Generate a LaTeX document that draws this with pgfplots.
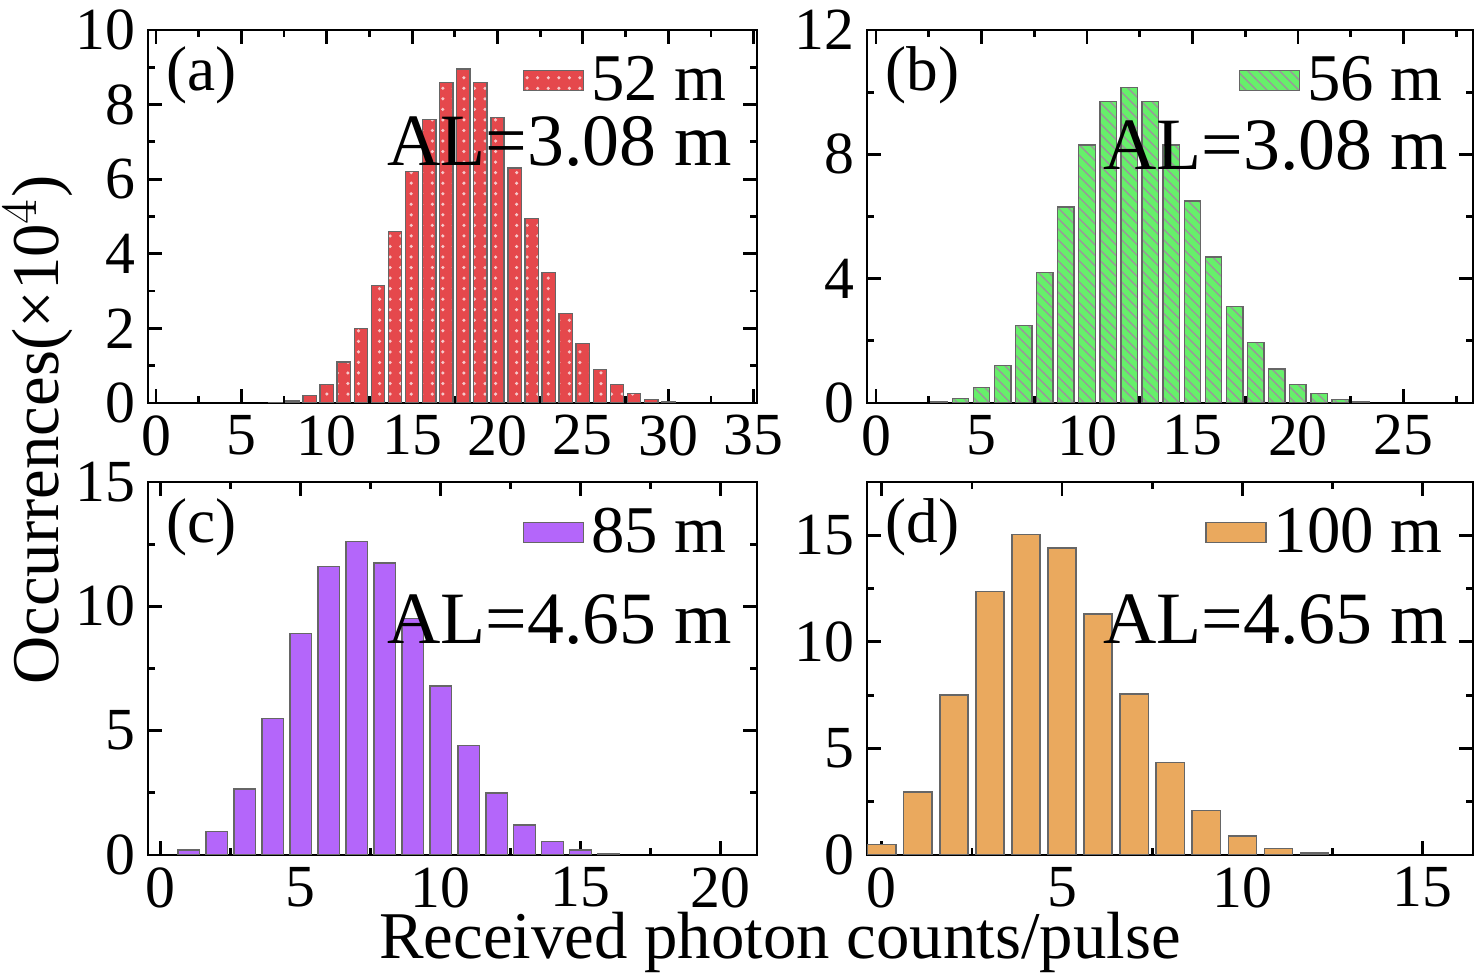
\documentclass[border=0pt]{standalone}
\usepackage{pgfplots}
\pgfplotsset{compat=1.18}
\usepackage{fontspec}
\setmainfont{Liberation Serif}
\usetikzlibrary{patterns}
\definecolor{cr}{HTML}{E5484C}
\definecolor{cg}{HTML}{66F06A}
\definecolor{cp}{HTML}{B466FA}
\definecolor{co}{HTML}{EAA95E}
\tikzset{lab/.style={font=\fontsize{18}{20}\selectfont}}
\pgfplotsset{
  every axis/.style={scale only axis, width=6.09cm, height=3.73cm, ybar, ymin=0,
    /pgf/number format/assume math mode=true,
    ticklabel style={font=\fontsize{17}{19}\selectfont},
    tick style={black, thick}, major tick length=4pt, minor tick length=2pt,
    minor x tick num=1, minor y tick num=1, tick align=inside,
    axis line style={thin},
    legend style={draw=none, fill=none, at={(0.98,0.97)}, anchor=north east,
      font=\fontsize{19}{21}\selectfont},
    legend image code/.code={\draw[#1,draw=black!60] (0cm,-0.25cm) rectangle (1.07cm,0.25cm);},
    area legend},
}
\begin{document}
\begin{tikzpicture}
\path[use as bounding box] (0,0) rectangle (14.78,-9.74);
% (a)
\begin{axis}[at={(1.48cm,-4.03cm)}, xmin=-0.47, xmax=35.2, ymax=10, xtick distance=5, ytick={0,2,4,6,8,10}, bar width=0.78]
\addplot[fill=cr, draw=black!60, postaction={pattern=dots, pattern color=white!70!cr}] coordinates {(7,0.02)(8,0.05)(9,0.2)(10,0.5)(11,1.1)(12,2.0)(13,3.15)(14,4.6)(15,6.2)(16,7.6)(17,8.6)(18,8.95)(19,8.6)(20,7.65)(21,6.3)(22,4.95)(23,3.5)(24,2.4)(25,1.6)(26,0.9)(27,0.5)(28,0.25)(29,0.1)(30,0.04)};
\addlegendentry{52 m}
\node[lab, anchor=north west] at (rel axis cs:0.01,0.99) {(a)};
\node[anchor=east, font=\fontsize{21}{23}\selectfont] at (rel axis cs:0.98,0.70) {AL=3.08 m};
\end{axis}
% (b)
\begin{axis}[at={(8.67cm,-4.03cm)}, width=6.06cm, xmin=-0.43, xmax=28.3, ymax=12, xtick distance=5, ytick={0,4,8,12}, bar width=0.78]
\addplot[fill=cg, draw=black!60, postaction={pattern=north west lines, pattern color=black!40}] coordinates {(3,0.03)(4,0.15)(5,0.5)(6,1.2)(7,2.5)(8,4.2)(9,6.3)(10,8.3)(11,9.7)(12,10.15)(13,9.7)(14,8.3)(15,6.5)(16,4.7)(17,3.1)(18,1.95)(19,1.1)(20,0.6)(21,0.3)(22,0.12)(23,0.04)};
\addlegendentry{56 m}
\node[lab, anchor=north west] at (rel axis cs:0.01,0.99) {(b)};
\node[anchor=east, font=\fontsize{21}{23}\selectfont] at (rel axis cs:0.98,0.69) {AL=3.08 m};
\end{axis}
% (c)
\begin{axis}[at={(1.48cm,-8.55cm)}, xmin=-0.46, xmax=21.3, ymax=15, xtick distance=5, ytick={0,5,10,15}, bar width=0.78]
\addplot[fill=cp, draw=black!60] coordinates {(1,0.2)(2,0.95)(3,2.65)(4,5.5)(5,8.9)(6,11.6)(7,12.6)(8,11.75)(9,9.5)(10,6.8)(11,4.4)(12,2.5)(13,1.2)(14,0.55)(15,0.2)(16,0.07)};
\addlegendentry{85 m}
\node[lab, anchor=north west] at (rel axis cs:0.01,0.99) {(c)};
\node[anchor=east, font=\fontsize{21}{23}\selectfont] at (rel axis cs:0.98,0.63) {AL=4.65 m};
\end{axis}
% (d)
\begin{axis}[at={(8.67cm,-8.55cm)}, width=6.06cm, xmin=-0.41, xmax=16.4, ymax=17.5, xtick distance=5, ytick={0,5,10,15}, bar width=0.78]
\addplot[fill=co, draw=black!60] coordinates {(0,0.5)(1,2.95)(2,7.5)(3,12.35)(4,15.05)(5,14.4)(6,11.3)(7,7.55)(8,4.35)(9,2.1)(10,0.9)(11,0.3)(12,0.1)};
\addlegendentry{100 m}
\node[lab, anchor=north west] at (rel axis cs:0.01,0.99) {(d)};
\node[anchor=east, font=\fontsize{21}{23}\selectfont] at (rel axis cs:0.98,0.63) {AL=4.65 m};
\end{axis}
\node[rotate=90, font=\fontsize{19}{21}\selectfont] at (0.38,-4.3) {Occurrences(×10$^4$)};
\node[font=\fontsize{19}{21}\selectfont] at (7.8,-9.42) {Received photon counts/pulse};
\end{tikzpicture}
\end{document}
